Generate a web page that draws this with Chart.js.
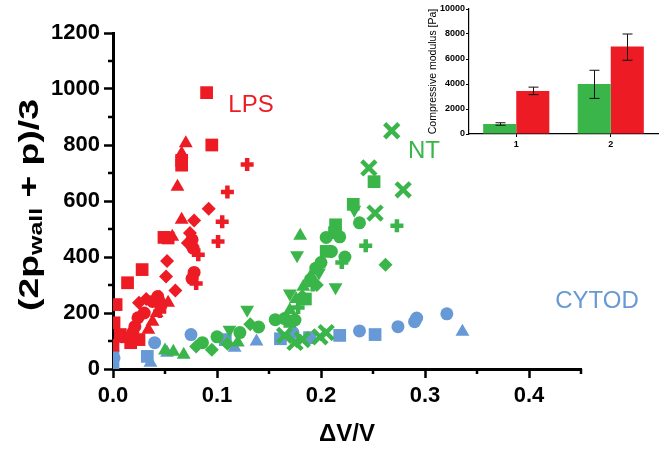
<!DOCTYPE html>
<html>
<head>
<meta charset="utf-8">
<script src="https://cdn.jsdelivr.net/npm/chart.js@4.4.0/dist/chart.umd.min.js"></script>
<style>
  body { margin: 0; background: #fff; }
  #wrap { position: relative; width: 664px; height: 451px; }
  #main { position: absolute; left: 0; top: 0; }
  #inset { position: absolute; left: 400px; top: 0; }
</style>
</head>
<body>
<div id="wrap">
  <canvas id="main" width="664" height="451"></canvas>
  <canvas id="inset" width="264" height="150"></canvas>
</div>
<script>
const RED = "#ED1C24";
const GREEN = "#3AB54A";
const BLUE = "#6699D5";
const FONT = "'Liberation Sans', Arial, sans-serif";

// LPS (red)
const lpsSquares = [[0.090,987],[0.095,800],[0.066,745],[0.066,728],[0.049,470],[0.053,468],[0.028,355],[0.014,308],[0.003,230],[0.001,165],[0.007,123],[0.017,94],[0.000,85],[0.025,105]];
const lpsTriangles = [[0.070,806],[0.066,770],[0.062,651],[0.066,533],[0.057,472],[0.045,255],[0.053,237],[0.038,169],[0.034,140],[0.042,200]];
const lpsDiamonds = [[0.092,572],[0.078,530],[0.074,486],[0.072,450],[0.052,386],[0.051,330],[0.025,237],[0.060,280],[0.032,250]];
const lpsCircles = [[0.077,432],[0.076,462],[0.078,345],[0.076,323],[0.043,259],[0.038,241],[0.024,183],[0.021,151],[0.019,130],[0.009,115],[0.046,225],[0.030,200]];
const lpsPlus = [[0.129,730],[0.110,632],[0.105,526],[0.101,455],[0.082,408],[0.080,305],[0.045,205]];

// NT (green)
const ntCrosses = [[0.268,851],[0.246,718],[0.252,557],[0.279,640],[0.175,95],[0.182,105],[0.199,115],[0.205,130],[0.165,120]];
const ntSquares = [[0.251,669],[0.231,588],[0.214,515],[0.213,487],[0.205,420],[0.185,250],[0.170,170]];
const ntDownTriangles = [[0.232,569],[0.177,406],[0.214,292],[0.129,212],[0.112,140],[0.170,270],[0.198,345]];
const ntTriangles = [[0.180,476],[0.183,294],[0.170,210],[0.176,250],[0.068,51],[0.058,62],[0.050,66],[0.190,330],[0.120,95]];
const ntCircles = [[0.237,522],[0.223,400],[0.218,472],[0.205,470],[0.086,94],[0.100,115],[0.122,130],[0.156,176],[0.195,360],[0.190,320],[0.175,175],[0.140,150],[0.210,420],[0.165,180],[0.200,380]];
const ntPlus = [[0.243,440],[0.220,380],[0.273,512],[0.192,300],[0.178,220]];
const ntDiamonds = [[0.262,372],[0.095,69],[0.110,90],[0.182,260],[0.196,300],[0.080,80],[0.132,160]];

// CYTOD (blue)
const cytoCircles = [[0.000,62],[0.001,40],[0.040,94],[0.075,123],[0.173,130],[0.237,136],[0.274,151],[0.290,169],[0.292,182],[0.321,197]];
const cytoSquares = [[0.000,20],[0.033,45],[0.108,105],[0.161,108],[0.189,112],[0.218,120],[0.252,123]];
const cytoTriangles = [[0.336,133],[0.117,76],[0.138,98],[0.052,58],[0.000,10],[0.036,22]];

// inset bars
const insetLabels = ["1", "2"];
const insetGreen = [800, 4000];
const insetRed = [3450, 7000];
const insetGreenLow = [700, 2850];
const insetGreenHigh = [900, 5100];
const insetRedLow = [3150, 5900];
const insetRedHigh = [3750, 8000];

const toPts = (arr) => arr.map(p => ({x: p[0], y: p[1]}));

function ds(arr, color, style, radius, extra) {
    return Object.assign({
        data: toPts(arr),
        pointStyle: style,
        pointRadius: radius,
        pointHoverRadius: radius,
        backgroundColor: color,
        borderColor: color,
        borderWidth: 0,
    }, extra || {});
}

const mainPlugin = {
    id: "mainExtras",
    afterDraw(chart) {
        const ctx = chart.ctx;
        const xs = chart.scales.x;
        const ys = chart.scales.y;
        const area = chart.chartArea;
        ctx.save();
        // minor ticks
        ctx.strokeStyle = "#000";
        ctx.lineWidth = 2.5;
        ctx.beginPath();
        for (let v = 0.05; v < 0.46; v += 0.1) {
            const px = xs.getPixelForValue(v);
            ctx.moveTo(px, area.bottom);
            ctx.lineTo(px, area.bottom + 5);
        }
        for (let v = 100; v < 1200; v += 200) {
            const py = ys.getPixelForValue(v);
            ctx.moveTo(area.left, py);
            ctx.lineTo(area.left - 5, py);
        }
        ctx.stroke();

        // y title with subscript, stretched along its length like the original
        ctx.translate(31, 205);
        ctx.rotate(-Math.PI / 2);
        ctx.fillStyle = "#000";
        ctx.textBaseline = "middle";
        const big = "bold 27px " + FONT;
        const small = "bold 18px " + FONT;
        const parts = [["(2p", big, 0], ["wall", small, 6], [" + p)/3", big, 0]];
        let total = 0;
        parts.forEach(p => { ctx.font = p[1]; total += ctx.measureText(p[0]).width; });
        ctx.scale(212 / total, 1);
        let x = -total / 2;
        ctx.textAlign = "left";
        parts.forEach(p => {
            ctx.font = p[1];
            ctx.fillText(p[0], x, p[2]);
            x += ctx.measureText(p[0]).width;
        });
        ctx.restore();

        // group labels
        ctx.save();
        ctx.font = "24px " + FONT;
        ctx.textAlign = "center";
        ctx.textBaseline = "middle";
        ctx.fillStyle = RED;
        ctx.fillText("LPS", 251, 105);
        ctx.fillStyle = GREEN;
        ctx.fillText("NT", 424, 151);
        ctx.fillStyle = BLUE;
        ctx.fillText("CYTOD", 597, 301);
        ctx.restore();
    }
};

new Chart(document.getElementById("main"), {
    type: "scatter",
    data: {
        datasets: [
            ds(ntCrosses, GREEN, "crossRot", 10, {borderWidth: 4.5}),
            ds(ntSquares, GREEN, "rect", 9),
            ds(ntDownTriangles, GREEN, "triangle", 8, {rotation: 180}),
            ds(ntTriangles, GREEN, "triangle", 8),
            ds(ntCircles, GREEN, "circle", 6.5),
            ds(ntPlus, GREEN, "cross", 6.5, {borderWidth: 4.5}),
            ds(ntDiamonds, GREEN, "rectRot", 7),
            ds(lpsSquares, RED, "rect", 9),
            ds(lpsTriangles, RED, "triangle", 8),
            ds(lpsDiamonds, RED, "rectRot", 7),
            ds(lpsCircles, RED, "circle", 6.5),
            ds(lpsPlus, RED, "cross", 6.5, {borderWidth: 4.5}),
            ds(cytoCircles, BLUE, "circle", 6.5),
            ds(cytoSquares, BLUE, "rect", 9),
            ds(cytoTriangles, BLUE, "triangle", 8),
        ],
    },
    options: {
        responsive: false,
        animation: false,
        layout: {padding: {top: 33, right: 83, left: 0, bottom: 0}},
        plugins: {legend: {display: false}, tooltip: {enabled: false}},
        scales: {
            x: {
                type: "linear",
                min: 0,
                max: 0.45,
                afterFit: (s) => { s.height = 82; },
                afterBuildTicks: (s) => { s.ticks = [0, 0.1, 0.2, 0.3, 0.4].map(v => ({value: v})); },
                border: {color: "#000", width: 3},
                grid: {drawOnChartArea: false, tickLength: 9, tickWidth: 2.5, tickColor: "#000"},
                ticks: {
                    color: "#000",
                    font: {family: FONT, size: 22, weight: "bold"},
                    padding: 5,
                    maxRotation: 0,
                    callback: (v) => v.toFixed(1),
                },
                title: {
                    display: true,
                    text: "\u0394V/V",
                    color: "#000",
                    font: {family: FONT, size: 24, weight: "bold"},
                    padding: {top: 0, bottom: 2},
                },
            },
            y: {
                min: 0,
                max: 1200,
                afterFit: (s) => { s.width = 113; },
                afterBuildTicks: (s) => { s.ticks = [0, 200, 400, 600, 800, 1000, 1200].map(v => ({value: v})); },
                border: {color: "#000", width: 3},
                grid: {drawOnChartArea: false, tickLength: 9, tickWidth: 2.5, tickColor: "#000"},
                ticks: {
                    color: "#000",
                    font: {family: FONT, size: 22, weight: "bold"},
                    padding: 4,
                    callback: (v) => String(v),
                },
            },
        },
    },
    plugins: [mainPlugin],
});

const errorBarPlugin = {
    id: "errorBars",
    afterDatasetsDraw(chart) {
        const ctx = chart.ctx;
        const ys = chart.scales.y;
        const ranges = [[insetGreenLow, insetGreenHigh], [insetRedLow, insetRedHigh]];
        ctx.save();
        ctx.strokeStyle = "#111";
        ctx.lineWidth = 1;
        ranges.forEach((r, di) => {
            chart.getDatasetMeta(di).data.forEach((bar, i) => {
                const x = Math.round(bar.x) + 0.5;
                const lo = ys.getPixelForValue(r[0][i]);
                const hi = ys.getPixelForValue(r[1][i]);
                ctx.beginPath();
                ctx.moveTo(x, lo); ctx.lineTo(x, hi);
                ctx.moveTo(x - 5, lo); ctx.lineTo(x + 5, lo);
                ctx.moveTo(x - 5, hi); ctx.lineTo(x + 5, hi);
                ctx.stroke();
            });
        });
        ctx.restore();
    }
};

new Chart(document.getElementById("inset"), {
    type: "bar",
    data: {
        labels: insetLabels,
        datasets: [
            {data: insetGreen, backgroundColor: GREEN, categoryPercentage: 0.7, barPercentage: 1.0},
            {data: insetRed, backgroundColor: RED, categoryPercentage: 0.7, barPercentage: 1.0},
        ],
    },
    options: {
        responsive: false,
        animation: false,
        layout: {padding: {top: 9, right: 6, left: 0, bottom: 0}},
        plugins: {legend: {display: false}, tooltip: {enabled: false}},
        scales: {
            x: {
                afterFit: (s) => { s.height = 16; },
                border: {color: "#000", width: 1.2},
                grid: {display: true, drawOnChartArea: false, offset: false, tickLength: 3, tickColor: "#000"},
                ticks: {color: "#000", font: {family: FONT, size: 9, weight: "bold"}, padding: 2},
            },
            y: {
                min: 0,
                max: 10000,
                afterFit: (s) => { s.width = 69; },
                afterBuildTicks: (s) => { s.ticks = [0, 2000, 4000, 6000, 8000, 10000].map(v => ({value: v})); },
                border: {color: "#000", width: 1.2},
                grid: {drawOnChartArea: false, tickLength: 3, tickColor: "#000"},
                ticks: {color: "#000", font: {family: FONT, size: 9, weight: "bold"}, padding: 1, callback: (v) => String(v)},
                title: {
                    display: true,
                    text: "Compressive modulus [Pa]",
                    color: "#000",
                    font: {family: FONT, size: 10.5},
                    padding: {top: 27, bottom: 0},
                },
            },
        },
    },
    plugins: [errorBarPlugin],
});
</script>
</body>
</html>
